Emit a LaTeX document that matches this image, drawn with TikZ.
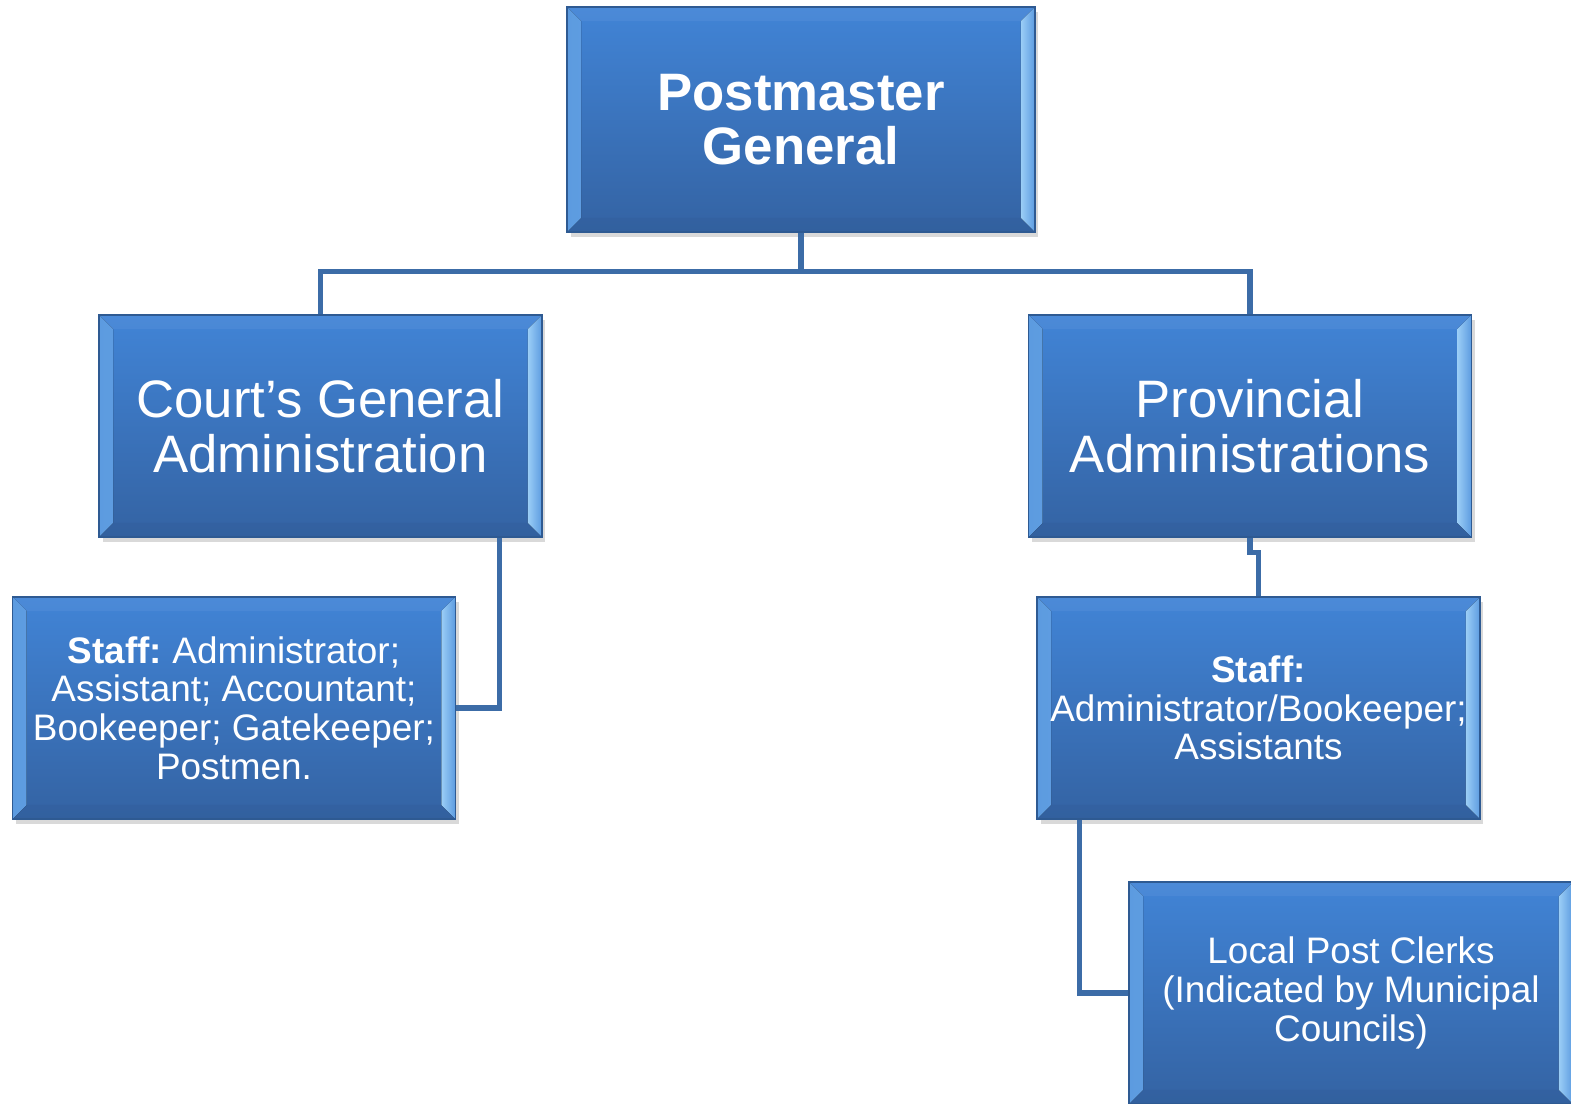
\documentclass[tikz,border=0pt]{standalone}
\usepackage{fontspec}
\setmainfont{Liberation Sans}
\frenchspacing
\usetikzlibrary{shadows,calc}
\definecolor{ftop}{HTML}{4184D6}
\definecolor{fbot}{HTML}{3463A3}
\definecolor{bdr}{HTML}{2E5A92}
\definecolor{bevlight}{HTML}{9ACDF6}
\definecolor{bevmid}{HTML}{5C9BE0}
\definecolor{conncol}{HTML}{3C6CA7}
\tikzset{
  bevbox/.style={draw=bdr, line width=0.7pt, top color=ftop, bottom color=fbot,
    minimum width=8.86cm, minimum height=4.44cm, inner sep=1pt, text=white, align=center,
    drop shadow={opacity=0.3, shadow xshift=2pt, shadow yshift=-3pt},
    path picture={
      \fill[left color=bevmid, right color=bevlight]
        (path picture bounding box.north west) --
        ([shift={(0.28cm,-0.28cm)}]path picture bounding box.north west) --
        ([shift={(0.28cm,0.28cm)}]path picture bounding box.south west) --
        (path picture bounding box.south west) -- cycle;
      \fill[left color=bevlight, right color=bevmid]
        (path picture bounding box.north east) --
        ([shift={(-0.28cm,-0.28cm)}]path picture bounding box.north east) --
        ([shift={(-0.28cm,0.28cm)}]path picture bounding box.south east) --
        (path picture bounding box.south east) -- cycle;
      \fill[ftop!85!white, opacity=0.35]
        (path picture bounding box.north west) --
        ([shift={(0.28cm,-0.28cm)}]path picture bounding box.north west) --
        ([shift={(-0.28cm,-0.28cm)}]path picture bounding box.north east) --
        (path picture bounding box.north east) -- cycle;
      \fill[fbot!90!black, opacity=0.25]
        (path picture bounding box.south west) --
        ([shift={(0.28cm,0.28cm)}]path picture bounding box.south west) --
        ([shift={(-0.28cm,0.28cm)}]path picture bounding box.south east) --
        (path picture bounding box.south east) -- cycle;
    }},
  bigtext/.style={font=\fontsize{30}{31}\selectfont},
  smalltext/.style={font=\fontsize{21}{22}\selectfont},
  conn/.style={draw=conncol, line width=3pt}
}
\begin{document}
\begin{tikzpicture}[x=0.02cm,y=-0.02cm]
\useasboundingbox (0,0) rectangle (1571,1104);
\node[bevbox, bigtext, minimum width=9.36cm, minimum height=4.5cm] (pg) at (801,119.5) {\bfseries Postmaster\\\bfseries General};
\node[bevbox, bigtext] (cga) at (320.5,426) {Court’s General\\Administration};
\node[bevbox, bigtext] (pa) at (1250,426) {Provincial\\Administrations};
\node[bevbox, smalltext] (staffL) at (234,708) {\textbf{Staff:} Administrator;\\Assistant; Accountant;\\Bookeeper; Gatekeeper;\\Postmen.};
\node[bevbox, smalltext] (staffR) at (1258.5,708) {\textbf{Staff:}\\Administrator/Bookeeper;\\Assistants};
\node[bevbox, smalltext, minimum width=8.88cm] (local) at (1351,993) {Local Post Clerks\\(Indicated by Municipal\\Councils)};
\coordinate (bar) at ($(pg.south)+(0,39)$);
\draw[conn] (pg.south) -- (bar) -| (cga.north);
\draw[conn] (bar) -| (pa.north);
\draw[conn] ([xshift=-0.86cm]cga.south east) |- (staffL.east);
\draw[conn] (pa.south) -- ++(0,15) -| (staffR.north);
\draw[conn] ([xshift=0.86cm]staffR.south west) |- (local.west);
\end{tikzpicture}
\end{document}
